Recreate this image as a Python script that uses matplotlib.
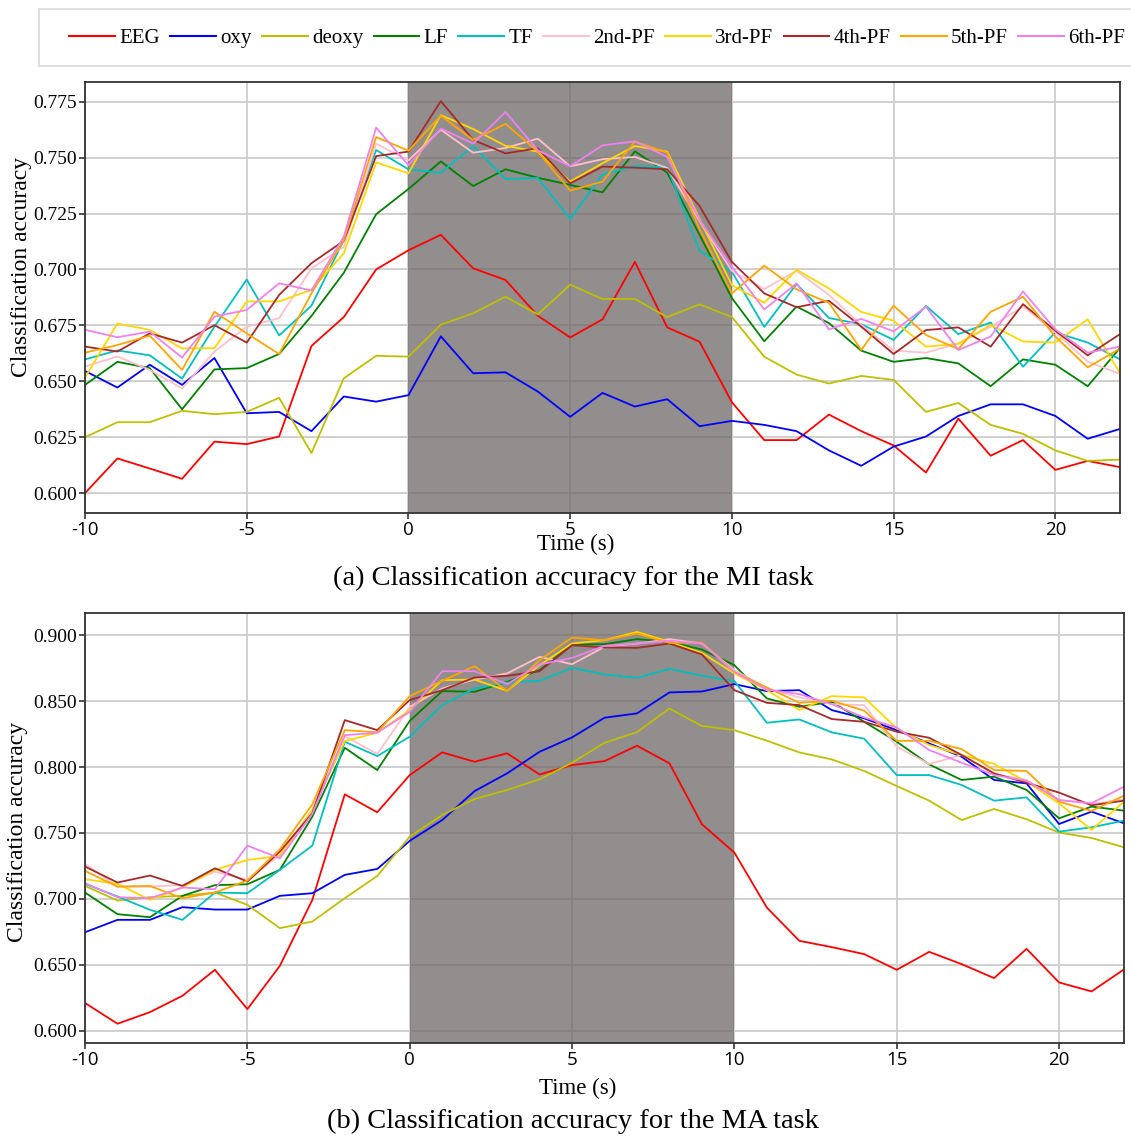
import numpy as np
import matplotlib
matplotlib.use("Agg")
import matplotlib.pyplot as plt
from matplotlib.lines import Line2D
from matplotlib.patches import Rectangle

# ── data ─────────────────────────────────────────────────────────
time = np.arange(-10, 23)
SERIES = ["EEG", "oxy", "deoxy", "LF", "TF", "2nd-PF", "3rd-PF", "4th-PF", "5th-PF", "6th-PF"]
COLORS = ["#ff0000", "#0000ff", "#bfbf00", "#008000", "#00bfbf",
          "#ffc0cb", "#ffd700", "#a52a2a", "#ffa500", "#ee82ee"]

# (a) MI task
mi_eeg = [0.600, 0.6155, 0.611, 0.6064, 0.623, 0.6219, 0.6253, 0.6658, 0.6787, 0.700, 0.7086,
          0.7155, 0.7005, 0.6953, 0.6793, 0.6696, 0.6777, 0.7034, 0.6741, 0.6677, 0.6406,
          0.6237, 0.6237, 0.6351, 0.6277, 0.6213, 0.6092, 0.6333, 0.6167, 0.6237, 0.6104, 0.6144, 0.6116]
mi_oxy = [0.6546, 0.6472, 0.6574, 0.6484, 0.6604, 0.6357, 0.6363, 0.6277, 0.6432, 0.6409, 0.6438,
          0.6701, 0.6536, 0.6540, 0.6454, 0.6341, 0.6448, 0.6387, 0.6420, 0.6299, 0.6323,
          0.6305, 0.6277, 0.6191, 0.6122, 0.6208, 0.6253, 0.6345, 0.6397, 0.6397, 0.6345, 0.6243, 0.6287]
mi_deoxy = [0.625, 0.6317, 0.6317, 0.6368, 0.6353, 0.6363, 0.6426, 0.6179, 0.6513, 0.6614, 0.6610,
            0.6753, 0.6804, 0.6878, 0.6799, 0.6932, 0.6868, 0.6868, 0.6787, 0.6844, 0.6787,
            0.6610, 0.6530, 0.6490, 0.6524, 0.6506, 0.6363, 0.6403, 0.6305, 0.6265, 0.6191, 0.6144, 0.6150]
mi_lf = [0.6484, 0.6587, 0.6559, 0.6375, 0.6553, 0.6559, 0.6622, 0.6792, 0.6985, 0.7247, 0.736,
         0.7483, 0.7373, 0.7448, 0.7410, 0.7378, 0.7345, 0.7528, 0.7433, 0.7155, 0.6872,
         0.6679, 0.6834, 0.6760, 0.6637, 0.6587, 0.6604, 0.6580, 0.6478, 0.6598, 0.6574, 0.6478, 0.6649]
mi_tf = [0.6598, 0.6638, 0.6616, 0.6512, 0.6744, 0.6955, 0.6705, 0.6838, 0.7131, 0.7534, 0.7448,
         0.7432, 0.7552, 0.7405, 0.7409, 0.7226, 0.7424, 0.7463, 0.7457, 0.7084, 0.6990,
         0.6743, 0.6935, 0.6783, 0.6755, 0.6685, 0.6837, 0.6711, 0.6763, 0.6565, 0.6719, 0.6673, 0.6598]
mi_pf2 = [0.6566, 0.6611, 0.6551, 0.6468, 0.6633, 0.6744, 0.6782, 0.7005, 0.7101, 0.7562, 0.7488,
          0.7625, 0.7522, 0.7543, 0.7585, 0.7461, 0.7493, 0.7503, 0.7454, 0.7215, 0.6993,
          0.6913, 0.6994, 0.6886, 0.6752, 0.6637, 0.6628, 0.6670, 0.6744, 0.6834, 0.6719, 0.6588, 0.6533]
mi_pf3 = [0.6517, 0.6758, 0.6730, 0.6647, 0.6648, 0.6857, 0.6857, 0.6909, 0.7072, 0.7479, 0.7430,
          0.7690, 0.7628, 0.7553, 0.7527, 0.7393, 0.7475, 0.7552, 0.7527, 0.7225, 0.6930,
          0.6851, 0.6999, 0.6915, 0.6810, 0.6771, 0.6655, 0.6667, 0.6752, 0.6678, 0.6673, 0.6777, 0.6536]
mi_pf4 = [0.6655, 0.6633, 0.6714, 0.6673, 0.6751, 0.6673, 0.6886, 0.7028, 0.7128, 0.7507, 0.7527,
          0.7753, 0.7579, 0.7519, 0.7542, 0.7385, 0.7460, 0.7455, 0.7448, 0.7284, 0.7034,
          0.6893, 0.6831, 0.6860, 0.6744, 0.6622, 0.6729, 0.6741, 0.6655, 0.6845, 0.6726, 0.6616, 0.6711]
mi_pf5 = [0.6628, 0.6662, 0.6704, 0.6551, 0.6811, 0.6714, 0.6622, 0.6893, 0.7131, 0.7592, 0.7531,
          0.7688, 0.7579, 0.7651, 0.7527, 0.7353, 0.7393, 0.7572, 0.7522, 0.7180, 0.6893,
          0.7017, 0.6911, 0.6851, 0.6640, 0.6838, 0.6707, 0.6644, 0.6811, 0.6878, 0.6700, 0.6562, 0.6646]
mi_pf6 = [0.6730, 0.6697, 0.6722, 0.6606, 0.6789, 0.6819, 0.6938, 0.6906, 0.7147, 0.7634, 0.7466,
          0.7630, 0.7563, 0.7704, 0.7533, 0.7461, 0.7555, 0.7573, 0.7503, 0.7220, 0.7012,
          0.6821, 0.6938, 0.6732, 0.6779, 0.6723, 0.6834, 0.6640, 0.6700, 0.6902, 0.6732, 0.6628, 0.6655]

# (b) MA task
ma_eeg = [0.621, 0.6053, 0.6141, 0.6265, 0.6462, 0.6164, 0.6492, 0.6992, 0.7793, 0.7657, 0.7939,
          0.8111, 0.8040, 0.8104, 0.7944, 0.8015, 0.8045, 0.8162, 0.8028, 0.7566, 0.7351,
          0.6934, 0.6682, 0.6634, 0.6581, 0.6462, 0.6598, 0.6505, 0.6399, 0.6621, 0.6366, 0.6298, 0.6465]
ma_oxy = [0.6747, 0.6841, 0.6841, 0.6937, 0.6919, 0.6919, 0.7023, 0.7043, 0.7182, 0.7227, 0.7440,
          0.7598, 0.7818, 0.7952, 0.8116, 0.8225, 0.8374, 0.8407, 0.8566, 0.8573, 0.8629,
          0.8576, 0.8583, 0.8432, 0.8369, 0.8280, 0.8179, 0.8078, 0.7902, 0.7876, 0.7568, 0.7662, 0.7573]
ma_deoxy = [0.7098, 0.6987, 0.7013, 0.7023, 0.7048, 0.6955, 0.6778, 0.6828, 0.7005, 0.7174, 0.7472,
            0.7636, 0.7758, 0.7826, 0.7907, 0.8033, 0.8184, 0.8265, 0.8444, 0.8311, 0.8280,
            0.8200, 0.8111, 0.8058, 0.7970, 0.7856, 0.7745, 0.7598, 0.7682, 0.7604, 0.7503, 0.7462, 0.7391]
ma_lf = [0.7048, 0.6884, 0.6861, 0.7023, 0.7104, 0.7111, 0.7220, 0.7624, 0.8146, 0.7977, 0.8350,
         0.8576, 0.8571, 0.8646, 0.8735, 0.8929, 0.8932, 0.8970, 0.8950, 0.8891, 0.8773,
         0.8520, 0.8457, 0.8495, 0.8343, 0.8192, 0.8020, 0.7902, 0.7927, 0.7826, 0.7611, 0.7700, 0.7669]
ma_tf = [0.7114, 0.7018, 0.6917, 0.6841, 0.7048, 0.7043, 0.7220, 0.7404, 0.8192, 0.8083, 0.8230,
         0.8470, 0.8596, 0.8641, 0.8654, 0.8753, 0.8702, 0.8677, 0.8745, 0.8692, 0.8652,
         0.8336, 0.8361, 0.8263, 0.8215, 0.7939, 0.7939, 0.7864, 0.7745, 0.7770, 0.7510, 0.7543, 0.7593]
ma_pf2 = [0.7265, 0.7093, 0.7093, 0.7106, 0.7207, 0.7144, 0.7333, 0.7674, 0.8235, 0.8098, 0.8457,
          0.8596, 0.8664, 0.8710, 0.8836, 0.8780, 0.8912, 0.8937, 0.8970, 0.8937, 0.8735,
          0.8596, 0.8528, 0.8477, 0.8470, 0.8154, 0.8023, 0.8091, 0.7947, 0.7902, 0.7750, 0.7720, 0.7755]
ma_pf3 = [0.7149, 0.7114, 0.6992, 0.7086, 0.7220, 0.7295, 0.7326, 0.7674, 0.8197, 0.8260, 0.8432,
          0.8659, 0.8664, 0.8578, 0.8773, 0.8937, 0.8962, 0.9025, 0.8950, 0.8866, 0.8710,
          0.8583, 0.8432, 0.8538, 0.8528, 0.8293, 0.8167, 0.8091, 0.8023, 0.7889, 0.7725, 0.7523, 0.7737]
ma_pf4 = [0.7245, 0.7124, 0.7177, 0.7098, 0.7232, 0.7131, 0.7359, 0.7649, 0.8356, 0.8280, 0.8508,
          0.8583, 0.8679, 0.8692, 0.8727, 0.8924, 0.8907, 0.8904, 0.8937, 0.8854, 0.8583,
          0.8487, 0.8470, 0.8364, 0.8343, 0.8268, 0.8222, 0.8091, 0.7952, 0.7881, 0.7806, 0.7710, 0.7745]
ma_pf5 = [0.7212, 0.7093, 0.7098, 0.7005, 0.7048, 0.7139, 0.7376, 0.7717, 0.8280, 0.8263, 0.8538,
          0.8654, 0.8765, 0.8576, 0.8811, 0.8982, 0.8962, 0.9012, 0.8942, 0.8944, 0.8722,
          0.8604, 0.8487, 0.8503, 0.8427, 0.8199, 0.8199, 0.8136, 0.7977, 0.7970, 0.7737, 0.7667, 0.7783]
ma_pf6 = [0.7119, 0.7013, 0.7005, 0.7086, 0.7073, 0.7404, 0.7308, 0.7644, 0.8242, 0.8260, 0.8419,
          0.8727, 0.8727, 0.8629, 0.8778, 0.8828, 0.8919, 0.8937, 0.8957, 0.8937, 0.8722,
          0.8588, 0.8553, 0.8477, 0.8376, 0.8300, 0.8129, 0.8033, 0.7939, 0.7896, 0.7750, 0.7725, 0.7851]

MI = [mi_eeg, mi_oxy, mi_deoxy, mi_lf, mi_tf, mi_pf2, mi_pf3, mi_pf4, mi_pf5, mi_pf6]
MA = [ma_eeg, ma_oxy, ma_deoxy, ma_lf, ma_tf, ma_pf2, ma_pf3, ma_pf4, ma_pf5, ma_pf6]

MI_TICKS = [0.600, 0.625, 0.650, 0.675, 0.700, 0.725, 0.750, 0.775]
MA_TICKS = [0.600, 0.650, 0.700, 0.750, 0.800, 0.850, 0.900]
X_TICKS = [-10, -5, 0, 5, 10, 15, 20]

SERIF = "Liberation Serif"
SANS = "Open Sans"
W, H = 1131, 1138

fig = plt.figure(figsize=(W / 100, H / 100), dpi=100)
ax_a = fig.add_axes([0.0752, 0.5492, 0.9151, 0.3787])
ax_b = fig.add_axes([0.0752, 0.0835, 0.9186, 0.3779])


def draw_panel(ax, data, ylim, yticks):
    ax.set_axisbelow(True)
    ax.grid(True, color="#d0d0d0", linewidth=1.4)
    # stimulus window
    ax.axvspan(0, 10, color="#6e6867", alpha=0.75, lw=0, zorder=1)
    for vals, c in zip(data, COLORS):
        ax.plot(time, vals, color=c, linewidth=1.3, zorder=2)
    ax.set_xlim(-10, 22)
    ax.set_ylim(*ylim)
    ax.set_xticks(X_TICKS)
    ax.set_xticklabels([str(t) for t in X_TICKS], fontfamily=SANS, fontsize=13.5)
    ax.set_yticks(yticks)
    ax.set_yticklabels([f"{v:.3f}" for v in yticks], fontfamily=SERIF, fontsize=14)
    ax.tick_params(axis="both", direction="out", length=4, width=1.2, color="#333333", pad=2)
    for sp in ax.spines.values():
        sp.set_color("#333333")
        sp.set_linewidth(1.3)


draw_panel(ax_a, MI, (0.5911, 0.7838), MI_TICKS)
draw_panel(ax_b, MA, (0.5907, 0.9169), MA_TICKS)

# axis labels and captions
fig.text(22 / W, 1 - 267 / H, "Classification accuracy", rotation=90,
         ha="center", va="center", fontfamily=SERIF, fontsize=17)
fig.text(18 / W, 1 - 832 / H, "Classification accuracy", rotation=90,
         ha="center", va="center", fontfamily=SERIF, fontsize=17)
fig.text(576 / W, 1 - 544 / H, "Time (s)", ha="center", va="center",
         fontfamily=SERIF, fontsize=16.5)
fig.text(578 / W, 1 - 1088 / H, "Time (s)", ha="center", va="center",
         fontfamily=SERIF, fontsize=16.5)
fig.text(573 / W, 1 - 578 / H, "(a) Classification accuracy for the MI task",
         ha="center", va="center", fontfamily=SERIF, fontsize=20.5)
fig.text(573 / W, 1 - 1121 / H, "(b) Classification accuracy for the MA task",
         ha="center", va="center", fontfamily=SERIF, fontsize=20.5)

# legend frame (runs off the right edge like the original)
fig.patches.append(Rectangle((39 / W, 1 - 66 / H), 1.0, 57 / H, transform=fig.transFigure,
                             facecolor="white", edgecolor="#dcdcdc", linewidth=1.3))
handles = [Line2D([], [], color=c, linewidth=1.5) for c in COLORS]
fig.legend(handles, SERIES, loc="center left", bbox_to_anchor=(69 / W, 1 - 38 / H),
           ncol=10, frameon=False, prop={"family": SERIF, "size": 15},
           handlelength=2.2, handletextpad=0.2, columnspacing=0.5,
           borderpad=0, borderaxespad=0)

fig.savefig("out.png", dpi=100)
